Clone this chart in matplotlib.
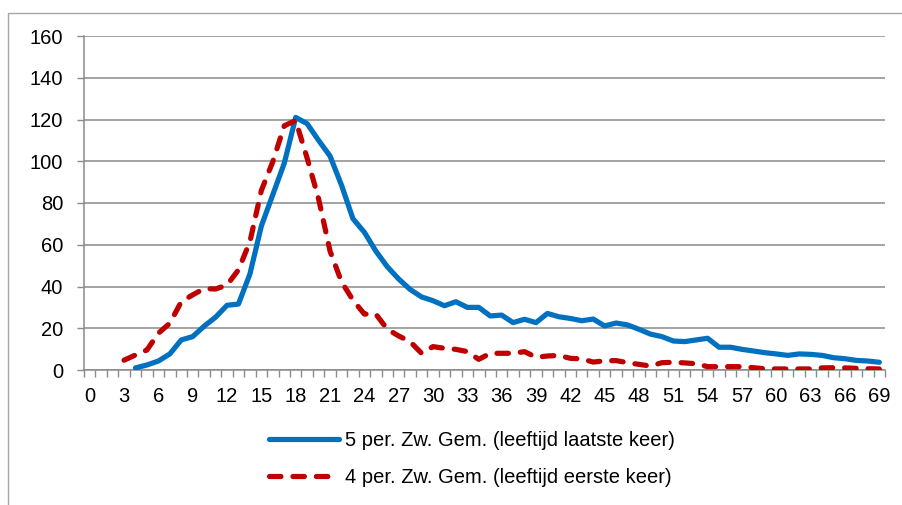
import numpy as np
import matplotlib
matplotlib.use("Agg")
import matplotlib.pyplot as plt
from matplotlib.patches import Rectangle

# leeftijd 0..69
ages = list(range(0, 70))

# 5 per. Zw. Gem. (leeftijd laatste keer), begint bij 4
laatste_start = 4
laatste = [1, 2.4, 4.3, 7.7, 14.4, 16, 21, 25.3, 31, 31.6,
           46, 69, 84, 99, 121, 118, 110, 102.5, 88.6, 72.5,
           66, 57, 49.5, 43.6, 38.6, 35, 33.2, 30.8, 32.7, 30,
           30, 25.9, 26.3, 22.7, 24.3, 22.7, 27.1, 25.5, 24.7, 23.6,
           24.4, 21.1, 22.5, 21.6, 19.5, 17.2, 16, 13.9, 13.6, 14.4,
           15.2, 10.9, 10.9, 9.9, 9.1, 8.3, 7.7, 7, 7.7, 7.5,
           7, 5.9, 5.4, 4.6, 4.3, 3.7]

# 4 per. Zw. Gem. (leeftijd eerste keer), begint bij 3
eerste_start = 3
eerste = [4.7, 7.2, 9.6, 17.6, 22.4, 32.7, 36, 39, 38.8, 40.7,
          48, 61.5, 86, 99.8, 117, 119.5, 101.5, 82, 57, 42.3,
          33.5, 26.8, 26.8, 19.6, 16.3, 13.6, 8, 11.2, 10.4, 9.9,
          8.8, 5.1, 8, 8, 8, 8.8, 6.1, 6.7, 7, 5.6,
          5.3, 3.8, 4.4, 4.5, 3.5, 2.7, 1.9, 3.5, 3.7, 3.4,
          3, 1.6, 1.6, 1.6, 1.6, 1.1, 0.6, 0.5, 0.5, 0.5,
          0.5, 1, 1.1, 1, 0.8, 0.6, 0.5]

label_laatste = "5 per. Zw. Gem. (leeftijd laatste keer)"
label_eerste = "4 per. Zw. Gem. (leeftijd eerste keer)"

plt.rcParams['font.family'] = ['Liberation Sans Narrow', 'Liberation Sans', 'DejaVu Sans']
fs = 14.5
grey = '#8a8a8a'

fig = plt.figure(figsize=(9.02, 5.05), dpi=100)
fig.patches.append(Rectangle((8 / 902, -0.1), 1.2, 1 - 13 / 505 + 0.1,
                             transform=fig.transFigure, fill=False,
                             edgecolor='#a6a6a6', linewidth=1.0))
ax = fig.add_axes([84 / 902, 1 - 370 / 505, (885 - 84) / 902, (370 - 36) / 505])

x_laatste = ages[laatste_start:laatste_start + len(laatste)]
x_eerste = ages[eerste_start:eerste_start + len(eerste)]
ax.plot(x_laatste, laatste, color='#0070C0', linewidth=3.75,
        solid_capstyle='round', solid_joinstyle='round', label=label_laatste, zorder=3)
ax.plot(x_eerste, eerste, color='#C00000', linewidth=3.75, linestyle=(0, (2.2, 2.3)),
        dash_capstyle='round', dash_joinstyle='round', label=label_eerste, zorder=3)

ax.set_xlim(-0.5, 69.5)
ax.set_ylim(0, 160)
ax.set_yticks(np.arange(0, 161, 20))
ax.set_xticks(ages[::3])
ax.set_xticklabels([str(a) for a in ages[::3]])
ax.set_xticks(np.arange(-0.5, 70, 1), minor=True)
ax.tick_params(axis='x', which='major', length=0, pad=12, labelsize=fs)
ax.tick_params(axis='x', which='minor', length=5, width=1, color=grey, direction='out')
ax.tick_params(axis='y', which='major', length=5, width=1, color=grey, pad=10, labelsize=fs)
ax.grid(axis='y', color=grey, linewidth=1.1, zorder=0)
ax.set_axisbelow(True)
for s in ['top', 'right']:
    ax.spines[s].set_visible(False)
for s in ['left', 'bottom']:
    ax.spines[s].set_color(grey)
    ax.spines[s].set_linewidth(1.1)

fig.legend(loc='center', bbox_to_anchor=(472 / 902, 1 - 459 / 505), frameon=False,
           fontsize=fs, handlelength=3.5, handletextpad=0.3, labelspacing=0.9)

fig.savefig('out.png', dpi=100)
